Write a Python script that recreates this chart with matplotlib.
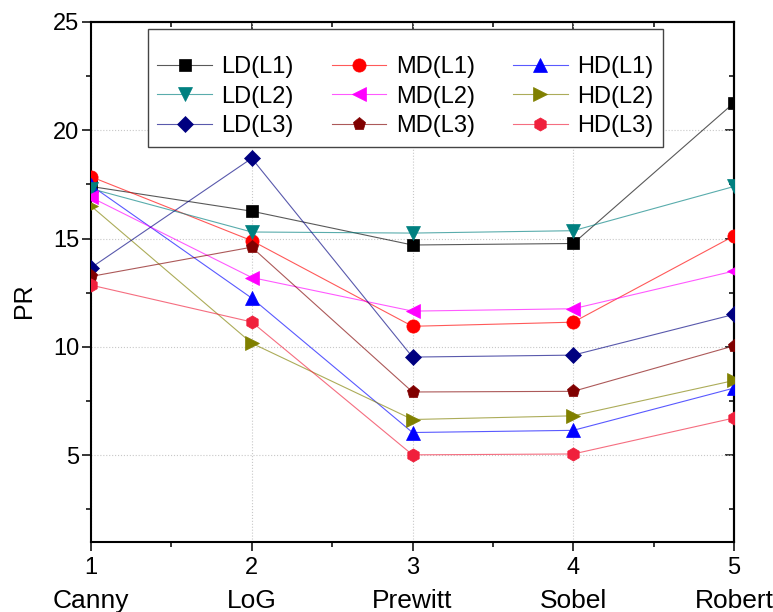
import matplotlib
matplotlib.use("Agg")
import matplotlib.pyplot as plt
from matplotlib.ticker import MultipleLocator
from matplotlib.colors import to_rgba

plt.rcParams["font.family"] = ["Liberation Sans", "DejaVu Sans"]

# --- data ---
x = [1, 2, 3, 4, 5]
methods = ["Canny", "LoG", "Prewitt", "Sobel", "Robert"]
names = ["LD(L1)", "MD(L1)", "HD(L1)", "LD(L2)", "MD(L2)", "HD(L2)",
         "LD(L3)", "MD(L3)", "HD(L3)"]
ld_l1 = [17.4, 16.26, 14.7, 14.77, 21.26]
md_l1 = [17.85, 14.9, 10.95, 11.14, 15.12]
hd_l1 = [17.45, 12.25, 6.05, 6.15, 8.1]
ld_l2 = [17.3, 15.3, 15.25, 15.36, 17.4]
md_l2 = [16.9, 13.2, 11.65, 11.76, 13.5]
hd_l2 = [16.5, 10.17, 6.65, 6.82, 8.45]
ld_l3 = [13.65, 18.7, 9.53, 9.62, 11.5]
md_l3 = [13.25, 14.6, 7.92, 7.95, 10.05]
hd_l3 = [12.85, 11.15, 5.02, 5.06, 6.72]
series = [ld_l1, md_l1, hd_l1, ld_l2, md_l2, hd_l2, ld_l3, md_l3, hd_l3]

# marker, colour, size
styles = [("s", "#000000", 8.5), ("o", "#ff0000", 9.5), ("^", "#0000ff", 9.5),
          ("v", "#008080", 9.5), ("<", "#ff00ff", 9.5), (">", "#808000", 9.5),
          ("D", "#000080", 8), ("p", "#800000", 9.5), ("h", "#f0203c", 9.5)]

fig = plt.figure(figsize=(7.73, 6.12), dpi=100)
ax = fig.add_axes([0.1177, 0.1144, 0.8319, 0.8501])

handles = []
for vals, (m, c, ms) in zip(series, styles):
    h, = ax.plot(x, vals, marker=m, ms=ms, color=to_rgba(c, 0.65), lw=0.8,
                 mfc=c, mec=c, mew=0.5, zorder=3)
    handles.append(h)

ax.set_xlim(1, 5)
ax.set_ylim(1, 25)
ax.set_xticks(x, [str(v) for v in x])
ax.xaxis.set_minor_locator(MultipleLocator(0.5))
ax.set_yticks([5, 10, 15, 20, 25])
ax.yaxis.set_minor_locator(MultipleLocator(2.5))
ax.grid(True, which="major", ls=":", color="#c8c8c8", lw=0.8, zorder=0)

for sp in ax.spines.values():
    sp.set_linewidth(1.5)

ax.tick_params(which="major", direction="out", length=6.5, width=1.1, pad=2)
ax.tick_params(which="minor", direction="out", length=3.3, width=1.1)
ax.tick_params(axis="y", labelsize=17)
ax.tick_params(axis="x", labelsize=17, pad=4)

# mirrored ticks on top / right, pointing inward
top = ax.secondary_xaxis("top")
top.set_xticks(x)
top.xaxis.set_minor_locator(MultipleLocator(0.5))
right = ax.secondary_yaxis("right")
right.set_yticks([5, 10, 15, 20, 25])
right.yaxis.set_minor_locator(MultipleLocator(2.5))
for sec in (top, right):
    sec.tick_params(which="major", direction="in", length=6.5, width=1.1)
    sec.tick_params(which="minor", direction="in", length=3.3, width=1.1)
    sec.tick_params(labeltop=False, labelright=False)
    for sp in sec.spines.values():
        sp.set_linewidth(1.5)

for xi, name in zip(x, methods):
    ax.text(xi, -0.113, name, transform=ax.get_xaxis_transform(), ha="center",
            va="center", fontsize=19)

ax.set_ylabel("PR", fontsize=18)
ax.yaxis.set_label_coords(-0.085, 0.463)

# legend is filled row-wise in the original -> reorder for column-major fill
order = [0, 3, 6, 1, 4, 7, 2, 5, 8]
leg = ax.legend([handles[i] for i in order], [names[i] for i in order], ncol=3,
                loc="upper left", bbox_to_anchor=(0.1915, 0.9526),
                bbox_transform=fig.transFigure, borderaxespad=0, fontsize=17,
                title=" ", title_fontsize=8,
                frameon=True, fancybox=False, framealpha=1, edgecolor="#444444",
                handlelength=2.3, handletextpad=0.4, columnspacing=1.63,
                labelspacing=0.32, borderpad=0.4)
leg.get_frame().set_linewidth(1.0)

fig.savefig("out.png", dpi=100)
